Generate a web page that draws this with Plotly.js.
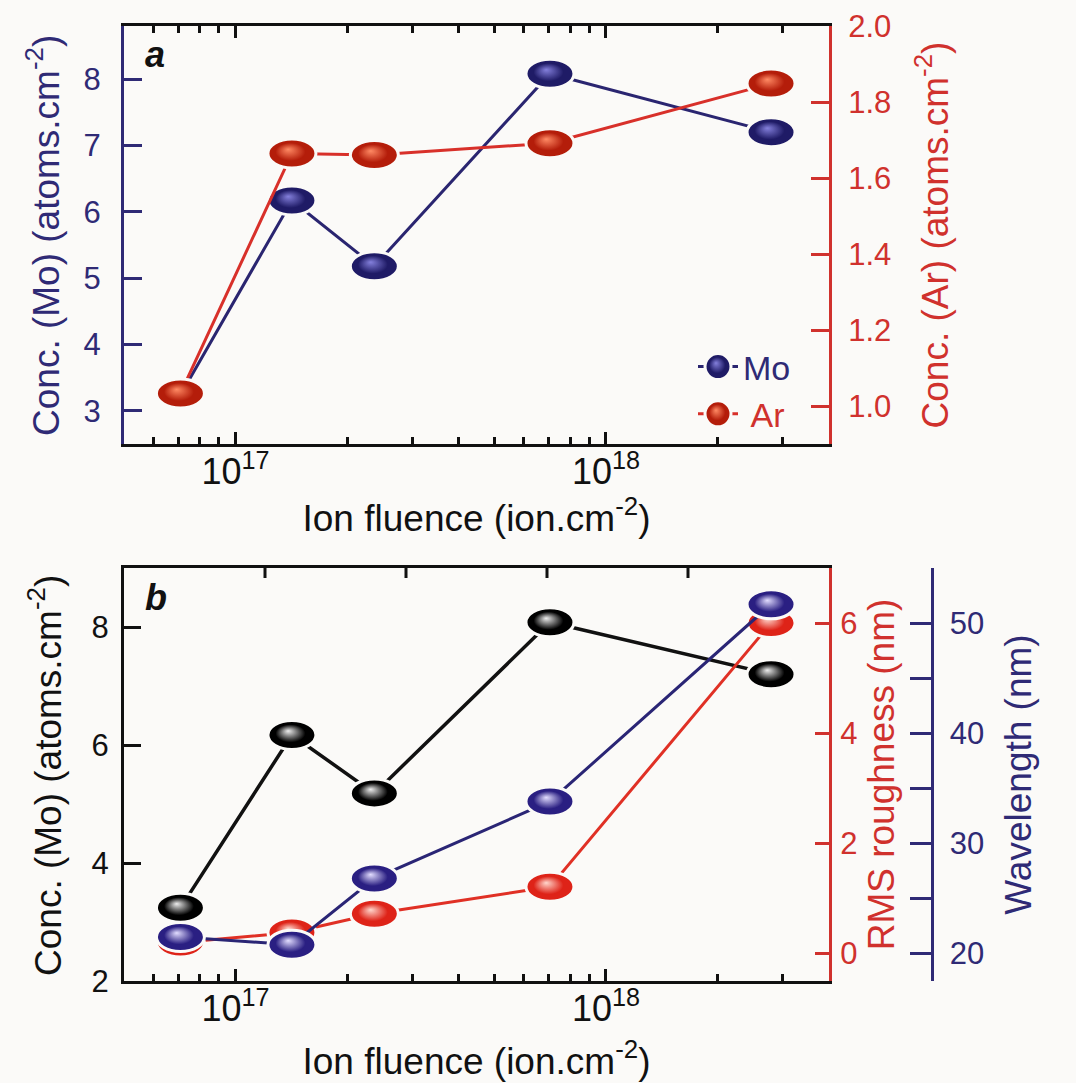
<!DOCTYPE html>
<html><head><meta charset="utf-8">
<script src="https://cdn.plot.ly/plotly-3.0.1.min.js"></script>
<style>html,body{margin:0;padding:0;background:#fbfaf8;}</style>
</head><body>
<div id="chart" style="width:1076px;height:1083px;"></div>
<script>
// ---- data ----
const fluence = [7.1e16, 1.42e17, 2.37e17, 7.06e17, 2.79e18];
const moConc = [3.24, 6.17, 5.18, 8.08, 7.20];
const arConc = [1.033, 1.665, 1.661, 1.692, 1.849];
const rmsRoughness = [0.20, 0.38, 0.72, 1.21, 6.00];
const wavelength = [21.5, 20.8, 26.8, 33.8, 51.7];

// ---- ticks ----
const xMajorTicks = [1e17, 1e18];
const xMajorLabels = ['10<sup>17</sup>', '10<sup>18</sup>'];
const xMinorTicks = [6e16, 7e16, 8e16, 9e16, 2e17, 3e17, 4e17, 5e17, 6e17, 7e17, 8e17, 9e17, 2e18, 3e18];
const moTicksA = [3, 4, 5, 6, 7, 8];
const arTicks = [1.0, 1.2, 1.4, 1.6, 1.8, 2.0];
const moTicksB = [2, 4, 6, 8];
const rmsTicks = [0, 2, 4, 6];
const waveTicks = [20, 25, 30, 35, 40, 45, 50];
const waveLabels = ['20', '', '30', '', '40', '', '50'];
const topDivFractions = [0.2, 0.4, 0.6, 0.8];   // top-edge ticks of panel b

const NAVY = '#2f2a75', RED = '#d0312d', BLACK = '#111111', BG = '#fbfaf8';
const FONT = 'Liberation Sans, Arial, Helvetica, sans-serif';
const W = 1076, H = 1083;
const px = v => v / W, py = v => 1 - v / H;

const xDom = [px(124), px(829)];
const topDom = [py(444), py(26)];
const botDom = [py(981), py(568)];

function mk(color, center) {
  return {size: 30, color: color, gradient: {type: 'radial', color: center}, line: {color: BG, width: 3}};
}

const traces = [
  {x: fluence, y: moConc, xaxis: 'x', yaxis: 'y', mode: 'lines+markers', name: '<span style="color:' + NAVY + '">Mo</span>',
   line: {color: '#2a2570', width: 3}, marker: mk('#1f1b66', '#8480dc')},
  {x: fluence, y: arConc, xaxis: 'x', yaxis: 'y2', mode: 'lines+markers', name: '<span style="color:' + RED + '"> Ar</span>',
   line: {color: '#d8302a', width: 3}, marker: mk('#b41d0a', '#ff8a64')},
  {x: fluence, y: moConc, xaxis: 'x2', yaxis: 'y3', mode: 'lines+markers', showlegend: false,
   line: {color: BLACK, width: 3.5}, marker: mk('#000000', '#eeeeee')},
  {x: fluence, y: rmsRoughness, xaxis: 'x2', yaxis: 'y4', mode: 'lines+markers', showlegend: false,
   line: {color: '#e03025', width: 3}, marker: mk('#de2318', '#ffd6cc')},
  {x: fluence, y: wavelength, xaxis: 'x2', yaxis: 'y5', mode: 'lines+markers', showlegend: false,
   line: {color: '#2a2575', width: 3}, marker: mk('#2a1f82', '#e2ddff')}
];

function xAx(anchor, mirror, standoff) {
  return {
    type: 'log', domain: xDom, anchor: anchor,
    range: [Math.log10(5e16), Math.log10(4e18)],
    tickmode: 'array', tickvals: xMajorTicks, ticktext: xMajorLabels,
    ticks: 'inside', ticklen: 12, tickwidth: 3, tickcolor: BLACK,
    minor: {tickmode: 'array', tickvals: xMinorTicks, ticks: 'inside', ticklen: 7, tickwidth: 3, tickcolor: BLACK, showgrid: false},
    showline: true, linecolor: BLACK, linewidth: 3, mirror: mirror,
    showgrid: false, zeroline: false, ticklabelstandoff: -6,
    tickfont: {size: 36, color: BLACK, family: FONT},
    title: {text: 'Ion fluence (ion.cm<sup>-2</sup>)', font: {size: 37, color: BLACK, family: FONT}, standoff: standoff}
  };
}

function yAx(o) {
  return Object.assign({tickmode: 'array', ticks: 'inside', tickwidth: 3, showline: true, linewidth: 3,
    showgrid: false, zeroline: false}, o);
}

const topTickShapes = topDivFractions.map(f => ({
  type: 'line', xref: 'x2 domain', yref: 'paper', x0: f, x1: f,
  y0: botDom[1], y1: botDom[1] - 10 / H, line: {color: BLACK, width: 3}
}));

const layout = {
  width: W, height: H, margin: {l: 0, r: 0, t: 0, b: 0},
  paper_bgcolor: BG, plot_bgcolor: BG,
  font: {family: FONT, color: BLACK},
  showlegend: true,
  legend: {x: px(693), y: py(338), xanchor: 'left', yanchor: 'top', bgcolor: 'rgba(0,0,0,0)',
           font: {size: 34, family: FONT}, itemwidth: 40, tracegroupgap: 0},
  xaxis: xAx('y', 'ticks', 6),
  xaxis2: xAx('y3', true, 20),
  yaxis: yAx({domain: topDom, anchor: 'x', range: [2.5, 8.8], tickvals: moTicksA,
              ticklen: 18, tickcolor: NAVY, linecolor: NAVY, ticklabelstandoff: 14,
              tickfont: {size: 31, color: NAVY, family: FONT}}),
  yaxis2: yAx({overlaying: 'y', side: 'right', anchor: 'x', range: [0.9, 2.0005], tickvals: arTicks, tickformat: '.1f',
               ticklen: 18, tickcolor: RED, linecolor: RED, ticklabelstandoff: 10,
               tickfont: {size: 31, color: RED, family: FONT},
               title: {text: 'Conc. (Ar) (atoms.cm<sup>-2</sup>)', font: {size: 37, color: RED, family: FONT}, standoff: 32}}),
  yaxis3: yAx({domain: botDom, anchor: 'x2', range: [2, 9], tickvals: moTicksB,
               ticklen: 17, tickcolor: BLACK, linecolor: BLACK, ticklabelstandoff: 6,
               tickfont: {size: 31, color: BLACK, family: FONT}}),
  yaxis4: yAx({overlaying: 'y3', side: 'right', anchor: 'x2', range: [-0.5, 7], tickvals: rmsTicks,
               ticklen: 14, tickcolor: RED, linecolor: RED, ticklabelstandoff: 2,
               tickfont: {size: 31, color: RED, family: FONT},
               title: {text: 'RMS roughness (nm)', font: {size: 37, color: RED, family: FONT}, standoff: 12}}),
  yaxis5: yAx({overlaying: 'y3', side: 'right', anchor: 'free', position: px(931.5), range: [17.5, 55],
               tickvals: waveTicks, ticktext: waveLabels,
               ticklen: 21, tickcolor: NAVY, linecolor: NAVY, ticklabelstandoff: 10,
               tickfont: {size: 31, color: NAVY, family: FONT},
               title: {text: 'Wavelength (nm)', font: {size: 37, color: NAVY, family: FONT}, standoff: 21}}),
  shapes: topTickShapes,
  annotations: [
    {text: 'Conc. (Mo) (atoms.cm<sup>-2</sup>)', xref: 'paper', yref: 'paper', x: px(43), y: py(236),
     xanchor: 'center', yanchor: 'middle', textangle: -90, showarrow: false, font: {size: 37, color: NAVY, family: FONT}},
    {text: 'Conc. (Mo) (atoms.cm<sup>-2</sup>)', xref: 'paper', yref: 'paper', x: px(45), y: py(776),
     xanchor: 'center', yanchor: 'middle', textangle: -90, showarrow: false, font: {size: 37, color: BLACK, family: FONT}},
    {text: '<b><i>a</i></b>', xref: 'paper', yref: 'paper', x: px(143), y: py(55), xanchor: 'left', yanchor: 'middle',
     showarrow: false, font: {size: 36, color: BLACK, family: FONT}},
    {text: '<b><i>b</i></b>', xref: 'paper', yref: 'paper', x: px(143), y: py(598), xanchor: 'left', yanchor: 'middle',
     showarrow: false, font: {size: 36, color: BLACK, family: FONT}}
  ]
};

// marker glyph shape (ellipse) and a soft off-centre highlight
const ELLIPSE = 'M24,0A24,14.5 0 1,1 0,-14.5A24,14.5 0 0,1 24,0Z';
const LEGDOT = 'M13,0A13,13 0 1,1 0,-13A13,13 0 0,1 13,0Z';
function reshape() {
  document.querySelectorAll('.scatterlayer path.point').forEach(p => p.setAttribute('d', ELLIPSE));
  document.querySelectorAll('.legend path.scatterpts').forEach(p => p.setAttribute('d', LEGDOT));
  document.querySelectorAll('radialGradient').forEach(g => {
    if (g.getAttribute('data-shine')) return;
    const stops = g.querySelectorAll('stop');
    if (stops.length < 2) return;
    const last = stops[stops.length - 1];
    const mid = last.cloneNode(false);
    mid.setAttribute('offset', '62%');
    g.insertBefore(mid, last);
    g.setAttribute('fx', '0.42');
    g.setAttribute('fy', '0.36');
    g.setAttribute('data-shine', '1');
  });
}
const gd = document.getElementById('chart');
Plotly.newPlot(gd, traces, layout, {displayModeBar: false, staticPlot: true}).then(() => {
  reshape();
  gd.on('plotly_afterplot', reshape);
});
</script>
</body></html>
